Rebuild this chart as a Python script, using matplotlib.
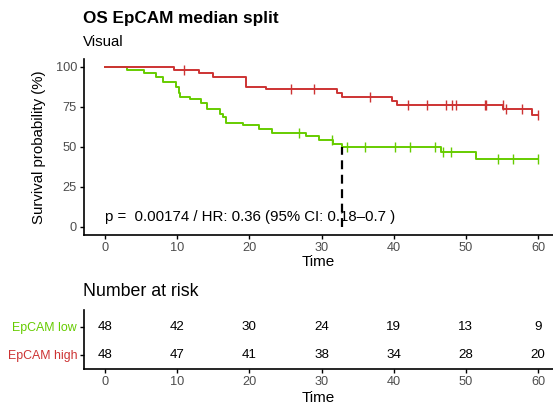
import matplotlib.pyplot as plt
import numpy as np

plt.rcParams['font.family'] = ['Liberation Sans', 'DejaVu Sans']

# Kaplan-Meier steps (time, survival %)
high_t = [0, 9.5, 13.0, 14.9, 19.5, 22.3, 32.1, 32.9, 39.8, 40.4, 55.2, 59.2, 60]
high_s = [100, 97.9, 95.8, 93.75, 87.5, 85.9, 83.4, 81.1, 78.6, 76.1, 73.4, 69.6, 69.6]
high_cens = [10.9, 25.8, 29.0, 36.7, 42.0, 44.6, 47.2, 48.1, 48.6, 52.6, 52.8, 55.1, 55.5, 57.8, 60]

low_t = [0, 3.0, 5.45, 7.1, 8.0, 9.9, 10.2, 10.4, 11.8, 13.3, 14.2, 15.9, 16.3, 16.7,
         19.1, 21.3, 23.2, 27.9, 29.7, 31.6, 32.9, 46.5, 51.4, 60]
low_s = [100, 97.9, 95.8, 93.75, 90.6, 87.5, 83.3, 81.3, 79.6, 77.5, 73.6, 70.25, 68.4, 65.0,
         63.4, 61.1, 58.75, 56.7, 54.2, 51.9, 49.6, 46.5, 42.5, 42.5]
low_cens = [26.9, 31.5, 33.5, 36.0, 40.2, 42.3, 45.7, 46.9, 48.0, 54.4, 56.6, 60]

median_time = 32.9
pval_text = "p =  0.00174 / HR: 0.36 (95% CI: 0.18\u20130.7 )"

risk_times = [0, 10, 20, 30, 40, 50, 60]
risk_low = [48, 42, 30, 24, 19, 13, 9]
risk_high = [48, 47, 41, 38, 34, 28, 20]

red = '#CD3333'
green = '#66CC00'
tick_grey = '#4D4D4D'


def surv_at(times, surv, t):
    idx = np.searchsorted(times, t, side='right') - 1
    return surv[idx]


W, H = 553, 409
fig = plt.figure(figsize=(W / 100, H / 100), dpi=100)

xlim = (-21 / 7.217, 448 / 7.217)

ax = fig.add_axes([84 / W, 1 - 234.7 / H, 1 - 84 / W, (234.7 - 58.7) / H])
for t, s, cens, col in [(low_t, low_s, low_cens, green), (high_t, high_s, high_cens, red)]:
    ax.step(t, s, where='post', color=col, lw=1.4)
    cs = [surv_at(t, s, c) for c in cens]
    ax.plot(cens, cs, ls='none', marker='|', ms=7, mew=1.0, color=col)

ax.plot([median_time, median_time], [0, 50], color='black', lw=1.6, ls=(0, (4, 2.5)))
ax.text(0, 6, pval_text, fontsize=10.8, ha='left', va='center')

ax.set_xlim(*xlim)
ax.set_ylim(-5, 105)
ax.set_xticks(risk_times)
ax.set_yticks([0, 25, 50, 75, 100])
ax.set_xlabel('Time', fontsize=11, labelpad=1)
ax.set_ylabel('Survival probability (%)', fontsize=10.8, labelpad=7)
for side in ['top', 'right']:
    ax.spines[side].set_visible(False)
for side in ['left', 'bottom']:
    ax.spines[side].set_linewidth(1.2)
ax.tick_params(length=3, width=1, labelsize=9.2, labelcolor=tick_grey, pad=2)

fig.text(83 / W, 1 - 18 / H, 'OS EpCAM median split', fontsize=12.3, fontweight='bold',
         ha='left', va='center')
fig.text(83 / W, 1 - 42 / H, 'Visual', fontsize=10.8, ha='left', va='center')

# risk table
rt = fig.add_axes([84 / W, 1 - 369 / H, 1 - 84 / W, (369 - 310) / H])
for t, nl, nh in zip(risk_times, risk_low, risk_high):
    rt.text(t, 2, str(nl), fontsize=9.6, ha='center', va='center')
    rt.text(t, 1, str(nh), fontsize=9.6, ha='center', va='center')
rt.set_xlim(*xlim)
rt.set_ylim(0.5, 2.6)
rt.set_xticks(risk_times)
rt.set_yticks([2, 1])
rt.set_yticklabels(['EpCAM low', 'EpCAM high'])
for lab, col in zip(rt.get_yticklabels(), [green, red]):
    lab.set_color(col)
rt.set_xlabel('Time', fontsize=11, labelpad=2)
for side in ['top', 'right']:
    rt.spines[side].set_visible(False)
for side in ['left', 'bottom']:
    rt.spines[side].set_linewidth(1.2)
rt.tick_params(axis='x', length=3, width=1, labelsize=9.2, labelcolor=tick_grey, pad=2)
rt.tick_params(axis='y', length=3, width=1, labelsize=8.9, pad=2)

fig.text(83 / W, 1 - 292 / H, 'Number at risk', fontsize=12.8, ha='left', va='center')

fig.savefig('out.png', dpi=100)
